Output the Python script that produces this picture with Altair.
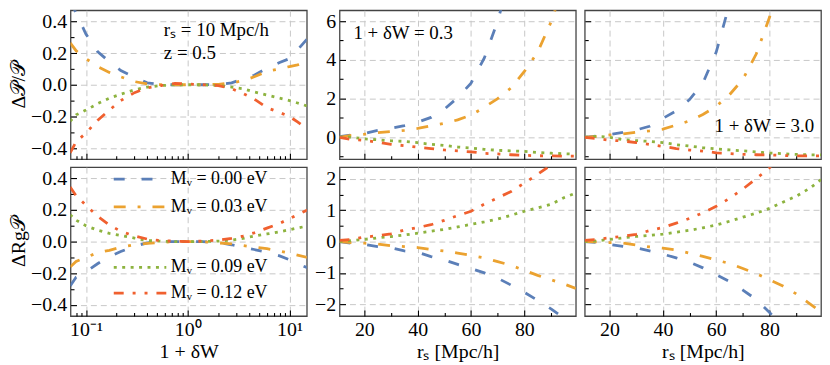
import altair as alt
import pandas as pd

FONT = "Liberation Serif"

series = ["0.00", "0.03", "0.09", "0.12"]
labels = [f"Mᵥ = {s} eV" for s in series]
colors = ["#5B7FB8", "#EBA230", "#8DB33F", "#F0602F"]
dashes = [[11, 17], [12, 12, 3, 12], [3, 5.5], [10, 9, 3, 9, 3, 9]]

# ---- panel 1: vs 1 + delta_W (r_s = 10 Mpc/h, z = 0.5)
dw = [0.07, 0.08, 0.1, 0.13, 0.17, 0.22, 0.3, 0.4, 0.55, 0.75, 1.0, 1.4, 2.0, 2.7, 3.5, 4.5, 6, 8, 10, 12, 15]
p1t_blue = [0.52, 0.455, 0.32, 0.21, 0.145, 0.09, 0.047, 0.012, 0.0, 0.0, 0.0, 0.0, 0.002, 0.012, 0.036, 0.06, 0.105, 0.14, 0.165, 0.22, 0.29]
p1t_orange = [0.265, 0.215, 0.165, 0.115, 0.078, 0.05, 0.02, 0.005, 0.0, 0.0, 0.0, 0.0, 0.003, 0.012, 0.025, 0.05, 0.085, 0.1, 0.115, 0.125, 0.145]
p1t_green = [-0.23, -0.19, -0.16, -0.12, -0.085, -0.06, -0.032, -0.015, -0.005, 0.0, 0.0, 0.0, -0.005, -0.015, -0.025, -0.045, -0.065, -0.085, -0.1, -0.115, -0.135]
p1t_red = [-0.43, -0.36, -0.305, -0.225, -0.16, -0.1, -0.05, -0.02, -0.005, 0.008, 0.005, 0.0, -0.005, -0.025, -0.055, -0.09, -0.145, -0.175, -0.2, -0.235, -0.28]

p1b_blue = [-0.28, -0.225, -0.19, -0.14, -0.095, -0.063, -0.03, -0.008, 0.0, 0.0, 0.0, 0.0, -0.005, -0.02, -0.035, -0.05, -0.067, -0.09, -0.115, -0.14, -0.165]
p1b_orange = [-0.16, -0.125, -0.1, -0.07, -0.055, -0.036, -0.02, -0.012, -0.005, 0.0, 0.0, 0.0, -0.008, -0.015, -0.025, -0.035, -0.045, -0.06, -0.072, -0.085, -0.1]
p1b_green = [0.17, 0.135, 0.1, 0.072, 0.052, 0.039, 0.022, 0.007, 0.002, 0.0, 0.0, 0.0, 0.003, 0.01, 0.02, 0.035, 0.048, 0.062, 0.075, 0.086, 0.098]
p1b_red = [0.345, 0.29, 0.23, 0.16, 0.105, 0.065, 0.035, 0.016, 0.005, 0.003, 0.0, 0.003, 0.01, 0.02, 0.035, 0.055, 0.085, 0.115, 0.145, 0.17, 0.2]

# ---- panels 2, 3: vs r_s
rs = [10.7, 15, 20, 25, 30, 35, 40, 45, 50, 55, 60, 65, 70, 75, 80, 85, 90, 95, 99.3]
# 1 + delta_W = 0.3
p2t_blue = [0.03, 0.12, 0.2, 0.36, 0.47, 0.6, 0.78, 1.03, 1.45, 2.05, 2.8, 4.1, 6.0, 8.5, None, None, None, None, None]
p2t_orange = [0.0, 0.1, 0.16, 0.24, 0.3, 0.36, 0.46, 0.6, 0.72, 0.9, 1.15, 1.55, 2.0, 2.55, 3.4, 4.4, 5.95, 8.0, None]
p2t_green = [0.015, 0.01, -0.08, -0.13, -0.18, -0.21, -0.28, -0.36, -0.42, -0.5, -0.55, -0.62, -0.67, -0.7, -0.73, -0.78, -0.82, -0.85, -0.87]
p2t_red = [0.0, -0.11, -0.16, -0.25, -0.36, -0.43, -0.51, -0.58, -0.65, -0.7, -0.75, -0.83, -0.86, -0.9, -0.93, -0.95, -0.96, -0.97, -0.97]
p2b_blue = [0.0, -0.05, -0.09, -0.16, -0.2, -0.3, -0.34, -0.48, -0.59, -0.73, -0.86, -1.0, -1.17, -1.39, -1.62, -1.88, -2.15, -2.45, None]
p2b_orange = [0.0, -0.03, -0.05, -0.08, -0.13, -0.16, -0.19, -0.25, -0.3, -0.37, -0.44, -0.52, -0.64, -0.76, -0.92, -1.08, -1.22, -1.36, -1.5]
p2b_green = [0.0, 0.03, 0.07, 0.12, 0.16, 0.21, 0.27, 0.33, 0.39, 0.47, 0.55, 0.63, 0.72, 0.84, 0.97, 1.08, 1.19, 1.41, 1.55]
p2b_red = [0.04, 0.07, 0.14, 0.19, 0.25, 0.37, 0.45, 0.54, 0.68, 0.83, 0.97, 1.2, 1.4, 1.6, 1.87, 2.15, 2.45, None, None]
# 1 + delta_W = 3.0
p3t_blue = [0.0, 0.07, 0.15, 0.25, 0.38, 0.57, 0.98, 1.36, 1.95, 2.8, 4.4, 6.9, None, None, None, None, None, None, None]
p3t_orange = [0.0, 0.05, 0.12, 0.18, 0.26, 0.33, 0.42, 0.63, 0.85, 1.18, 1.6, 2.2, 3.0, 4.3, 6.2, 9.0, None, None, None]
p3t_green = [0.015, 0.05, 0.0, -0.12, -0.17, -0.21, -0.27, -0.38, -0.45, -0.54, -0.6, -0.65, -0.7, -0.75, -0.81, -0.85, -0.88, -0.9, -0.91]
p3t_red = [0.0, -0.06, -0.15, -0.19, -0.27, -0.37, -0.47, -0.58, -0.66, -0.71, -0.8, -0.84, -0.88, -0.9, -0.91, -0.94, -0.96, -0.96, -0.96]
p3b_blue = [0.0, -0.03, -0.09, -0.15, -0.2, -0.3, -0.4, -0.52, -0.66, -0.84, -1.06, -1.28, -1.55, -1.85, -2.27, -2.7, None, None, None]
p3b_orange = [0.0, -0.01, -0.03, -0.05, -0.11, -0.17, -0.21, -0.27, -0.37, -0.47, -0.59, -0.7, -0.86, -1.02, -1.22, -1.42, -1.67, -1.98, -2.25]
p3b_green = [0.0, 0.02, 0.07, 0.12, 0.165, 0.2, 0.235, 0.3, 0.36, 0.44, 0.53, 0.65, 0.78, 0.91, 1.06, 1.26, 1.45, 1.7, 1.98]
p3b_red = [0.04, 0.07, 0.12, 0.17, 0.23, 0.35, 0.45, 0.59, 0.74, 0.92, 1.13, 1.38, 1.68, 2.01, 2.36, 2.7, None, None, None]

# ---- tick values
log_major = [0.1, 1, 10]
log_minor = [0.08, 0.09, 0.2, 0.3, 0.4, 0.5, 0.6, 0.7, 0.8, 0.9, 2, 3, 4, 5, 6, 7, 8, 9]
rs_major = [20, 40, 60, 80]
rs_minor = [30, 50, 70, 90]
d_major = [-0.4, -0.2, 0.0, 0.2, 0.4]
d_minor = [-0.3, -0.1, 0.1, 0.3]
t_major = [0, 2, 4, 6]
t_minor = [-1, 1, 3, 5]
b_major = [-2, -1, 0, 1, 2]
b_minor = [-1.5, -0.5, 0.5, 1.5]

ann_p1 = ["rₛ = 10 Mpc/h", "z = 0.5"]
ann_p2 = ["1 + δW = 0.3"]
ann_p3 = ["1 + δW = 3.0"]

W, H = 238, 150


def long_df(xs, cols):
    rows = []
    for lab, vals in zip(labels, cols):
        for x, v in zip(xs, vals):
            rows.append({"x": x, "y": v, "series": lab})
    return pd.DataFrame(rows)


def main_axis(orient, values, show_labels, title=None, fmt=None, label_expr=None, title_padding=4):
    kw = dict(orient=orient, values=values, ticks=False, domain=False, labels=show_labels,
              grid=True, gridColor="#c8c8c8", gridDash=[6, 4], gridWidth=1,
              labelFont=FONT, labelFontSize=20, labelColor="black", labelPadding=4,
              titleFont=FONT, titleFontSize=20, titleColor="black", titleFontWeight=400,
              titlePadding=title_padding, minExtent=0, title=title)
    if fmt:
        kw["format"] = fmt
    if label_expr:
        kw["labelExpr"] = label_expr
    return alt.Axis(**kw)


def tick_axis(orient, values, size):
    return alt.Axis(orient=orient, values=values, ticks=True, tickSize=size, tickColor="black",
                    tickWidth=1.1, offset=-size, labels=False, domain=False, grid=False,
                    title=None, minExtent=0, maxExtent=0)


def line_layer(df, xs, ys, xax, yax, idx, legend=None):
    sub = df[df["series"].isin([labels[i] for i in idx])]
    dom = [labels[i] for i in idx]
    return alt.Chart(sub).mark_line(clip=True, strokeWidth=2.8).encode(
        x=alt.X("x:Q", scale=xs, axis=xax),
        y=alt.Y("y:Q", scale=ys, axis=yax),
        color=alt.Color("series:N", scale=alt.Scale(domain=dom, range=[colors[i] for i in idx]), legend=legend),
        strokeDash=alt.StrokeDash("series:N", scale=alt.Scale(domain=dom, range=[dashes[i] for i in idx]), legend=legend),
    )


def text_layer(txt, x, y, align="left"):
    return alt.Chart(pd.DataFrame({"t": [txt]})).mark_text(
        font=FONT, fontSize=19, color="black", align=align, baseline="middle"
    ).encode(text="t:N", x=alt.value(x), y=alt.value(y))


def panel(df, xdom, xtype, ydom, xmain, ymain, xmaj, xmin, ymaj, ymin, extras=(), split_legend=False):
    xs = alt.Scale(domain=xdom, type=xtype, nice=False, zero=False)
    ys = alt.Scale(domain=ydom, nice=False, zero=False)
    base = alt.Chart(df)
    t1 = base.mark_line(opacity=0, clip=True).encode(
        x=alt.X("x:Q", scale=xs, axis=tick_axis("bottom", xmaj, 6)),
        y=alt.Y("y:Q", scale=ys, axis=tick_axis("left", ymaj, 6)))
    t2 = base.mark_line(opacity=0, clip=True).encode(
        x=alt.X("x:Q", scale=xs, axis=tick_axis("bottom", xmin, 3.5)),
        y=alt.Y("y:Q", scale=ys, axis=tick_axis("left", ymin, 3.5)))
    if split_legend:
        def leg(ly, rp):
            return alt.Legend(orient="none", legendX=61, legendY=ly, title=None,
                              symbolType="M-5,0H5", symbolSize=112, symbolStrokeWidth=2.8,
                              labelFont=FONT, labelFontSize=18, labelColor="black", labelOffset=22,
                              rowPadding=rp, padding=0, labelLimit=300)
        la = line_layer(df, xs, ys, xmain, ymain, [0, 1], leg(3, 10))
        lb = line_layer(df, xs, ys, None, None, [2, 3], leg(92, 8))
        layers = [t1, t2, la, lb]
    else:
        layers = [t1, t2, line_layer(df, xs, ys, xmain, ymain, [0, 1, 2, 3])]
    layers += list(extras)
    ch = alt.layer(*layers).resolve_axis(x="independent", y="independent")
    if split_legend:
        ch = ch.resolve_scale(color="independent", strokeDash="independent")
    return ch.properties(width=W, height=H)


log_dom = [0.0706, 14.8]
rs_dom = [10.7, 99.3]
log_expr = "datum.value < 0.5 ? '10⁻¹' : (datum.value < 5 ? '10⁰' : '10¹')"

p1t = panel(long_df(dw, [p1t_blue, p1t_orange, p1t_green, p1t_red]), log_dom, "log", [-0.47, 0.47],
            main_axis("bottom", log_major, False),
            main_axis("left", d_major, True, title="Δ𝒫/𝒫", fmt=".1f", title_padding=2),
            log_major, log_minor, d_major, d_minor,
            extras=[text_layer(ann_p1[0], 94, 20), text_layer(ann_p1[1], 94, 43)])
p2t = panel(long_df(rs, [p2t_blue, p2t_orange, p2t_green, p2t_red]), rs_dom, "linear", [-1.13, 6.56],
            main_axis("bottom", rs_major, False),
            main_axis("left", t_major, True, fmt="d"),
            rs_major, rs_minor, t_major, t_minor,
            extras=[text_layer(ann_p2[0], 14, 23)])
p3t = panel(long_df(rs, [p3t_blue, p3t_orange, p3t_green, p3t_red]), rs_dom, "linear", [-1.13, 6.56],
            main_axis("bottom", rs_major, False),
            main_axis("left", t_major, False),
            rs_major, rs_minor, t_major, t_minor,
            extras=[text_layer(ann_p3[0], 231, 117, align="right")])
p1b = panel(long_df(dw, [p1b_blue, p1b_orange, p1b_green, p1b_red]), log_dom, "log", [-0.47, 0.47],
            main_axis("bottom", log_major, True, title="1 + δW", label_expr=log_expr, title_padding=2),
            main_axis("left", d_major, True, title="ΔRg𝒫", fmt=".1f", title_padding=2),
            log_major, log_minor, d_major, d_minor, split_legend=True)
p2b = panel(long_df(rs, [p2b_blue, p2b_orange, p2b_green, p2b_red]), rs_dom, "linear", [-2.38, 2.38],
            main_axis("bottom", rs_major, True, title="rₛ  [Mpc/h]", fmt="d", title_padding=2),
            main_axis("left", b_major, True, fmt="d"),
            rs_major, rs_minor, b_major, b_minor)
p3b = panel(long_df(rs, [p3b_blue, p3b_orange, p3b_green, p3b_red]), rs_dom, "linear", [-2.38, 2.38],
            main_axis("bottom", rs_major, True, title="rₛ  [Mpc/h]", fmt="d", title_padding=2),
            main_axis("left", b_major, False),
            rs_major, rs_minor, b_major, b_minor)

chart = alt.concat(p1t, p2t, p3t, p1b, p2b, p3b, columns=3, spacing={"row": 5, "column": 6}).resolve_scale(
    color="independent", strokeDash="independent"
).configure_view(stroke="#444444", strokeWidth=1.3).configure_axis(
    titleFontWeight=400
).properties(background="white", padding=0)

chart.save("out.html", embed_options={"renderer": "svg", "actions": False})
